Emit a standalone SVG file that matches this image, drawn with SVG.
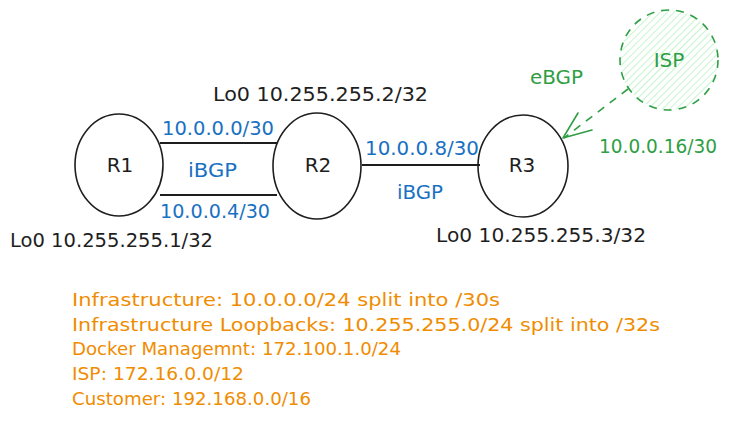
<svg xmlns="http://www.w3.org/2000/svg" width="729" height="422" viewBox="0 0 729 422">
<defs>
<style>
text{font-family:"DejaVu Sans","Liberation Sans",sans-serif;}
.k{fill:#1e1e1e;font-size:20px;}
.b{fill:#1971c2;font-size:20px;}
.g{fill:#2f9e44;font-size:20px;}
.o{fill:#f08c00;font-size:18px;}
.node{fill:none;stroke:#1e1e1e;stroke-width:1.6;}
.mid{text-anchor:middle;}
.link{stroke:#1e1e1e;stroke-width:2;fill:none;}
</style>
<pattern id="hach" width="5" height="5" patternUnits="userSpaceOnUse" patternTransform="rotate(45)">
<line x1="0" y1="0" x2="0" y2="5" stroke="#b2f2bb" stroke-width="1.5"/>
</pattern>
</defs>
<rect width="729" height="422" fill="#ffffff"/>
<g id="connectors">
<line class="link" x1="160" y1="143" x2="277" y2="143"/>
<line class="link" x1="160" y1="195" x2="277" y2="195"/>
<line class="link" x1="362" y1="165" x2="480" y2="165"/>
<line x1="628" y1="89" x2="564" y2="138" stroke="#2f9e44" stroke-width="1.6" stroke-dasharray="8 7"/>
<polyline points="578,113 563,138 592,130" fill="none" stroke="#2f9e44" stroke-width="1.6" stroke-linecap="round" stroke-linejoin="round"/>
</g>
<g id="R1">
<ellipse class="node" cx="119" cy="165" rx="44" ry="51"/>
<text class="k mid" x="120" y="172" font-size="19">R1</text>
</g>
<g id="R2">
<ellipse class="node" cx="317" cy="166" rx="44" ry="53"/>
<text class="k mid" x="318" y="172" font-size="19">R2</text>
</g>
<g id="R3">
<ellipse class="node" cx="523" cy="166" rx="45" ry="51"/>
<text class="k mid" x="522" y="172" font-size="19">R3</text>
</g>
<g id="ISP">
<ellipse cx="669" cy="60" rx="49" ry="50" fill="url(#hach)" stroke="#2f9e44" stroke-width="1.6" stroke-dasharray="8 7"/>
<text class="g mid" x="669" y="67" font-size="19">ISP</text>
</g>
<g id="labels">
<text class="k" x="213" y="101" textLength="215" lengthAdjust="spacingAndGlyphs">Lo0 10.255.255.2/32</text>
<text class="k" x="10" y="247" textLength="203" lengthAdjust="spacingAndGlyphs">Lo0 10.255.255.1/32</text>
<text class="k" x="436" y="242" textLength="210" lengthAdjust="spacingAndGlyphs">Lo0 10.255.255.3/32</text>
<text class="b" x="162" y="135" textLength="112" lengthAdjust="spacingAndGlyphs">10.0.0.0/30</text>
<text class="b" x="188" y="177" textLength="49" lengthAdjust="spacingAndGlyphs">iBGP</text>
<text class="b" x="160" y="218" textLength="110" lengthAdjust="spacingAndGlyphs">10.0.0.4/30</text>
<text class="b" x="365" y="155" textLength="114" lengthAdjust="spacingAndGlyphs">10.0.0.8/30</text>
<text class="b" x="397" y="199" textLength="46" lengthAdjust="spacingAndGlyphs">iBGP</text>
<text class="g" x="530" y="84" textLength="53" lengthAdjust="spacingAndGlyphs">eBGP</text>
<text class="g" x="599" y="153" textLength="118" lengthAdjust="spacingAndGlyphs">10.0.0.16/30</text>
</g>
<g id="legend">
<text class="o" x="72" y="306" textLength="428" lengthAdjust="spacingAndGlyphs">Infrastructure: 10.0.0.0/24 split into /30s</text>
<text class="o" x="72" y="331" textLength="588" lengthAdjust="spacingAndGlyphs">Infrastructure Loopbacks: 10.255.255.0/24 split into /32s</text>
<text class="o" x="72" y="355" textLength="329" lengthAdjust="spacingAndGlyphs">Docker Managemnt: 172.100.1.0/24</text>
<text class="o" x="72" y="380" textLength="172" lengthAdjust="spacingAndGlyphs">ISP: 172.16.0.0/12</text>
<text class="o" x="72" y="405" textLength="239" lengthAdjust="spacingAndGlyphs">Customer: 192.168.0.0/16</text>
</g>
</svg>
